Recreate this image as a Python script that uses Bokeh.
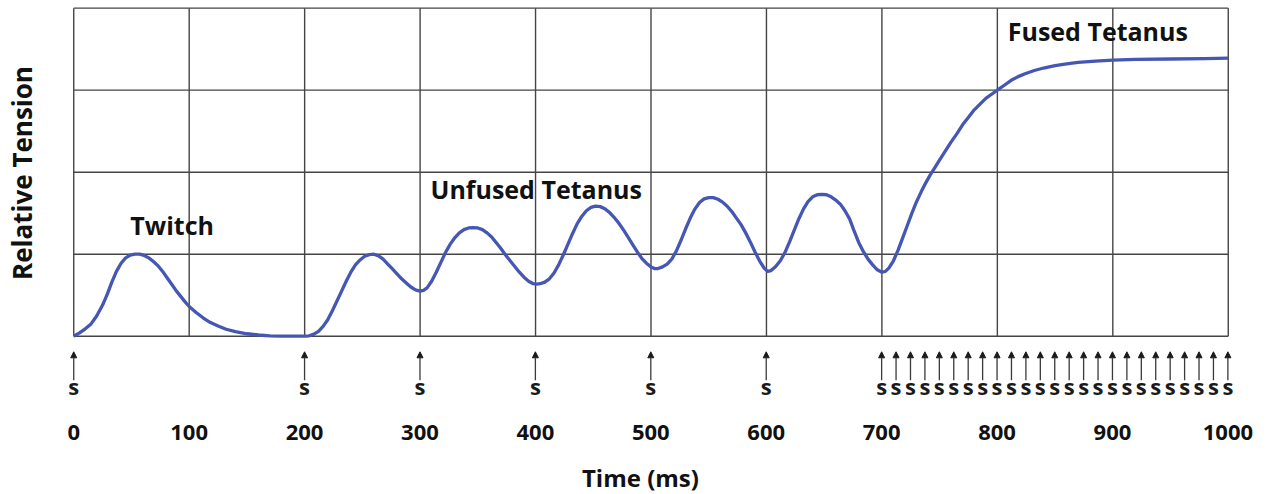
from bokeh.plotting import figure
from bokeh.layouts import column
from bokeh.models import Range1d, FixedTicker, ColumnDataSource, Arrow, NormalHead
from bokeh.core.properties import value
from bokeh.embed import file_html
from bokeh.resources import INLINE

# ---- data (time in ms, relative tension in grid units) ----
curve_points = [
    (0, 0.0), (5, 0.04), (10, 0.09), (15, 0.15), (20, 0.25), (25, 0.38), (29, 0.51), (33, 0.66),
    (37, 0.79), (41, 0.89), (45, 0.955), (49, 0.99), (53, 1.0), (57, 1.0), (61, 0.985), (65, 0.955),
    (69, 0.91), (73, 0.86), (77, 0.79), (81, 0.71), (85, 0.63), (89, 0.55), (93, 0.48), (97, 0.41),
    (101, 0.35), (106, 0.29), (112, 0.225), (118, 0.17), (125, 0.125), (132, 0.085), (140, 0.055),
    (150, 0.03), (160, 0.015), (170, 0.005), (180, 0.0), (200, 0.0),
    (204, 0.005), (208, 0.025), (212, 0.06), (216, 0.12), (220, 0.2), (224, 0.31), (228, 0.43),
    (232, 0.55), (236, 0.67), (240, 0.78), (244, 0.87), (248, 0.93), (252, 0.975), (256, 0.995),
    (260, 1.0), (264, 0.98), (268, 0.94), (272, 0.88), (276, 0.82), (280, 0.76), (284, 0.70),
    (288, 0.65), (292, 0.60), (296, 0.565), (300, 0.55), (303, 0.56), (306, 0.59), (310, 0.67),
    (314, 0.78), (318, 0.90), (322, 1.02), (326, 1.12), (330, 1.2), (334, 1.26), (338, 1.30),
    (342, 1.32), (346, 1.325), (350, 1.32), (354, 1.30), (358, 1.26), (362, 1.21), (366, 1.14),
    (370, 1.07), (374, 0.99), (378, 0.92), (382, 0.85), (386, 0.78), (390, 0.72), (394, 0.67),
    (398, 0.64), (401, 0.635), (404, 0.64), (408, 0.66), (412, 0.70), (416, 0.77), (420, 0.87),
    (424, 0.99), (428, 1.12), (432, 1.25), (436, 1.37), (440, 1.46), (444, 1.53), (448, 1.57),
    (452, 1.585), (456, 1.58), (460, 1.555), (464, 1.51), (468, 1.45), (472, 1.38), (476, 1.30),
    (480, 1.21), (484, 1.12), (488, 1.03), (492, 0.95), (496, 0.89), (500, 0.845), (503, 0.825),
    (506, 0.825), (510, 0.845), (514, 0.88), (518, 0.94), (522, 1.04), (526, 1.17), (530, 1.31),
    (534, 1.44), (538, 1.55), (542, 1.63), (546, 1.675), (550, 1.69), (554, 1.69), (558, 1.67),
    (562, 1.635), (566, 1.585), (570, 1.52), (574, 1.44), (578, 1.36), (582, 1.26), (586, 1.15),
    (590, 1.03), (594, 0.92), (598, 0.83), (601, 0.79), (604, 0.80), (608, 0.85), (612, 0.92),
    (616, 1.02), (620, 1.15), (624, 1.29), (628, 1.43), (632, 1.55), (636, 1.64), (640, 1.70),
    (644, 1.725), (648, 1.73), (652, 1.725), (656, 1.70), (660, 1.66), (664, 1.61), (668, 1.53),
    (672, 1.43), (676, 1.28), (680, 1.14), (684, 1.03), (688, 0.94), (692, 0.87), (696, 0.81),
    (700, 0.78), (703, 0.79), (706, 0.83), (710, 0.92), (714, 1.05), (718, 1.20), (722, 1.35),
    (726, 1.50), (730, 1.64), (734, 1.76), (738, 1.87), (742, 1.97), (746, 2.06), (750, 2.15),
    (755, 2.26), (760, 2.37), (765, 2.47), (770, 2.58), (775, 2.67), (780, 2.76), (785, 2.83),
    (790, 2.90), (795, 2.95), (800, 3.0), (806, 3.06), (812, 3.12), (818, 3.165), (824, 3.2),
    (832, 3.24), (840, 3.27), (850, 3.30), (860, 3.32), (870, 3.34), (885, 3.355), (900, 3.365),
    (920, 3.375), (950, 3.38), (980, 3.385), (1000, 3.39),
]
time_ms = [t for t, _ in curve_points]
tension = [v for _, v in curve_points]

stim_ms = [0, 200, 300, 400, 500, 600,
           700, 712.5, 725, 737.5, 750, 762.5, 775, 787.5, 800, 812.5, 825, 837.5, 850,
           862.5, 875, 887.5, 900, 912.5, 925, 937.5, 950, 962.5, 975, 987.5, 1000]
stim_label = "s"

x_ticks = [0, 100, 200, 300, 400, 500, 600, 700, 800, 900, 1000]
x_tick_labels = ["0", "100", "200", "300", "400", "500", "600", "700", "800", "900", "1000"]
y_grid = [0, 1, 2, 3, 4]

annot_text = ["Twitch", "Unfused Tetanus", "Fused Tetanus"]
annot_x = [49, 309, 809]
annot_y = [1.362, 1.795, 3.716]

x_title = "Time (ms)"
y_title = "Relative Tension"

FONT = value("Open Sans")
GRID_COLOR = "#454545"
LINE_COLOR = "#4657b3"
TEXT_COLOR = "#111111"


def clean(fig):
    fig.outline_line_color = None
    fig.xgrid.visible = False
    fig.ygrid.visible = False
    fig.background_fill_color = "white"
    fig.border_fill_color = "white"


# ---------- upper panel: tension record ----------
top = figure(frame_width=1173, frame_height=333, output_backend="svg", toolbar_location=None,
             x_range=Range1d(-8, 1008), y_range=Range1d(-0.04, 4.02), x_axis_location=None,
             min_border_left=64, min_border_right=33, min_border_top=6, min_border_bottom=0)
clean(top)

top.segment(x0=x_ticks, x1=x_ticks, y0=[y_grid[0]] * len(x_ticks), y1=[y_grid[-1]] * len(x_ticks),
            line_color=GRID_COLOR, line_width=1.4)
top.segment(x0=[x_ticks[0]] * len(y_grid), x1=[x_ticks[-1]] * len(y_grid), y0=y_grid, y1=y_grid,
            line_color=GRID_COLOR, line_width=1.4)
top.line(time_ms, tension, line_color=LINE_COLOR, line_width=3.3, line_join="round")
top.text(x=annot_x, y=annot_y, text=annot_text, text_font=FONT, text_font_style="bold",
         text_font_size="25px", text_align="left", text_baseline="middle", text_color=TEXT_COLOR)

top.yaxis.ticker = FixedTicker(ticks=[])
top.yaxis.axis_line_color = None
top.yaxis.major_tick_line_color = None
top.yaxis.minor_tick_line_color = None
top.yaxis.major_tick_out = 0
top.yaxis.axis_label = y_title
top.yaxis.axis_label_text_font = "Open Sans"
top.yaxis.axis_label_text_font_style = "bold"
top.yaxis.axis_label_text_font_size = "26px"
top.yaxis.axis_label_text_color = TEXT_COLOR
top.yaxis.axis_label_standoff = 25

# ---------- lower panel: stimuli, time scale ----------
bot = figure(frame_width=1198, frame_height=155, output_backend="svg", toolbar_location=None,
             x_range=Range1d(-8, 1030), y_range=Range1d(-1.93, -0.04),
             x_axis_location=None, y_axis_location=None,
             min_border_left=64, min_border_right=8, min_border_top=0, min_border_bottom=0)
clean(bot)

src = ColumnDataSource(dict(x=stim_ms, ys=[-0.537] * len(stim_ms), ye=[-0.19] * len(stim_ms)))
bot.add_layout(Arrow(end=NormalHead(size=6, fill_color="#1a1a1a", line_color="#1a1a1a", line_width=1),
                     source=src, x_start="x", y_start="ys", x_end="x", y_end="ye",
                     line_color="#3a3a3a", line_width=1.3))
bot.text(x=stim_ms, y=[-0.606] * len(stim_ms), text=[stim_label] * len(stim_ms),
         text_font=FONT, text_font_style="bold", text_font_size="22px",
         text_align="center", text_baseline="middle", text_color="#1a1a1a")
bot.text(x=x_ticks, y=[-1.179] * len(x_ticks), text=x_tick_labels,
         text_font=FONT, text_font_style="bold", text_font_size="22px",
         text_align="center", text_baseline="middle", text_color=TEXT_COLOR)
bot.text(x=[491], y=[-1.723], text=[x_title],
         text_font=FONT, text_font_style="bold", text_font_size="24px",
         text_align="center", text_baseline="middle", text_color=TEXT_COLOR)

layout = column(top, bot, spacing=0)
open("out.html", "w").write(file_html(layout, INLINE))
